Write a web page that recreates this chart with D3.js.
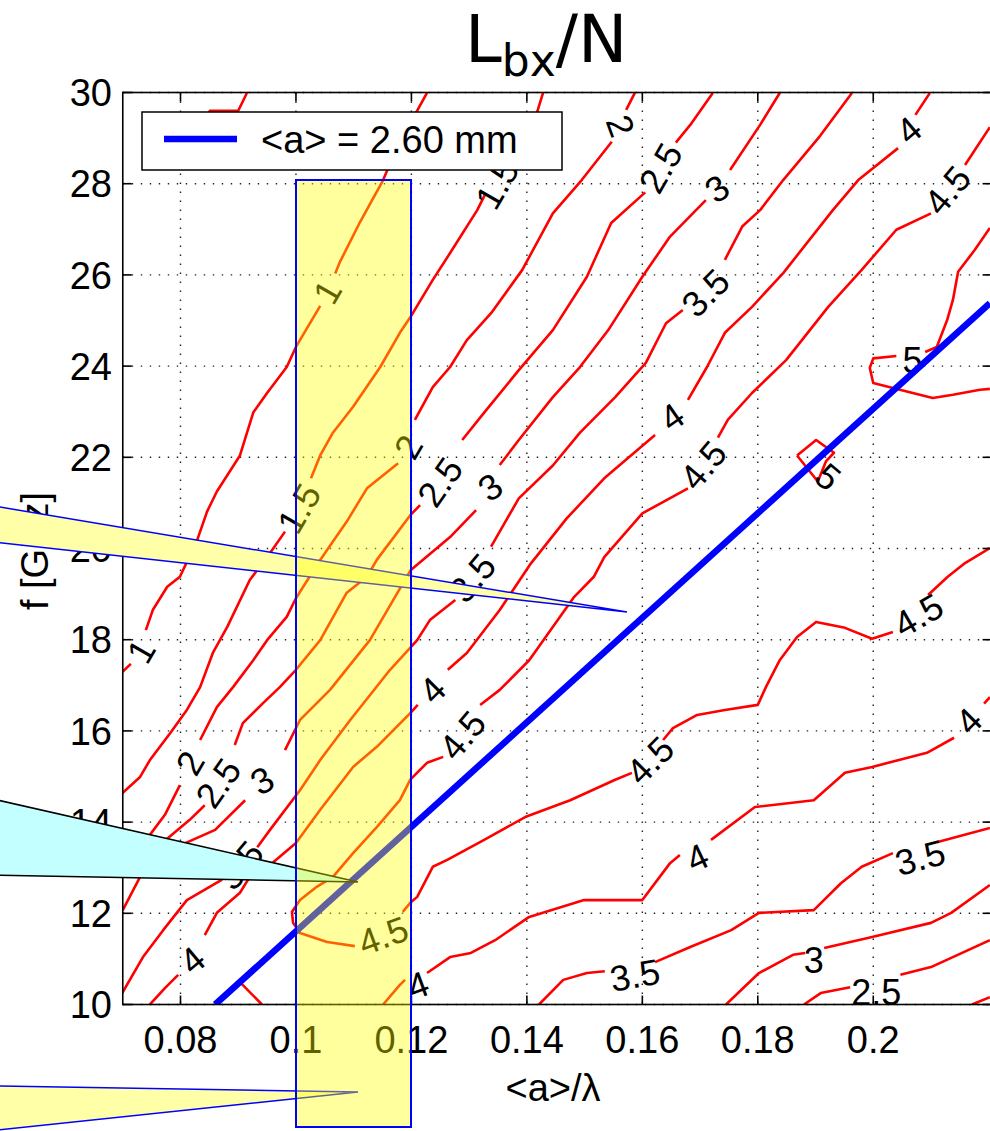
<!DOCTYPE html>
<html><head><meta charset="utf-8">
<script src="https://cdn.jsdelivr.net/npm/d3@7"></script>
<style>body{margin:0;background:#fff}svg{display:block}</style>
</head><body>
<script>
// ---------- data ----------
const xTicks = [0.08, 0.1, 0.12, 0.14, 0.16, 0.18, 0.2];
const yTicks = [10, 12, 14, 16, 18, 20, 22, 24, 26, 28, 30];
const xTickLabels = ["0.08", "0.1", "0.12", "0.14", "0.16", "0.18", "0.2"];
const legendLabel = "<a> = 2.60 mm";
const blueLine = [[0.0860, 10], [0.2202, 25.38]];

const c05 = [[[0.0915,29.99],[0.0900,29.60],[0.0851,29.60],[0.0834,29.29]]];
const c1 = [
 [[0.1227,29.99],[0.1210,29.60],[0.1180,28.96],[0.1151,28.08],[0.1111,27.16],[0.1076,26.28],[0.1068,26.03]],
 [[0.1042,25.32],[0.1000,24.42],[0.0984,23.98],[0.0950,23.41],[0.0926,22.98],[0.0903,22.04],[0.0863,21.25],[0.0846,20.81],[0.0829,20.19],[0.0799,19.38],[0.0777,19.16],[0.0752,18.65],[0.0740,18.21]],
 [[0.0714,17.47],[0.0699,17.29]]];
const c15 = [
 [[0.1428,29.99],[0.1418,29.58],[0.1388,28.96],[0.1364,28.30]],
 [[0.1327,27.75],[0.1314,27.42],[0.1267,26.48],[0.1237,25.89],[0.1198,25.07],[0.1180,24.73],[0.1146,23.98],[0.1099,23.11],[0.1064,22.54],[0.1042,22.04],[0.1026,21.54]],
 [[0.0981,20.37],[0.0950,19.81],[0.0920,19.31],[0.0881,18.28],[0.0856,17.71],[0.0834,16.96],[0.0811,16.46],[0.0782,15.95],[0.0747,15.36],[0.0730,14.99],[0.0699,14.63]]];
const c2 = [
 [[0.1587,29.99],[0.1572,29.62]],
 [[0.1547,28.92],[0.1495,28.08],[0.1445,27.35],[0.1392,26.11],[0.1338,25.16],[0.1296,24.57],[0.1267,23.98],[0.1237,23.54],[0.1206,22.82]],
 [[0.1177,21.87],[0.1123,21.32],[0.1088,20.59],[0.1059,20.06],[0.1042,19.75],[0.1000,18.91],[0.0984,18.50],[0.0950,17.99],[0.0926,17.55],[0.0891,16.96],[0.0863,16.52],[0.0834,15.80]],
 [[0.0799,14.81],[0.0773,14.16],[0.0747,13.72],[0.0699,13.28]]];
const c25 = [
 [[0.1722,29.99],[0.1683,29.29],[0.1658,28.90]],
 [[0.1605,27.81],[0.1546,27.14],[0.1504,25.96],[0.1445,24.79],[0.1386,23.91],[0.1326,22.98],[0.1288,22.38]],
 [[0.1215,20.95],[0.1198,20.73],[0.1140,19.75],[0.1123,19.38],[0.1088,19.03],[0.1042,17.99],[0.1000,17.34],[0.0972,16.96],[0.0943,16.61],[0.0908,16.17],[0.0894,15.69]],
 [[0.0842,14.37],[0.0816,14.05],[0.0764,13.50],[0.0730,13.17],[0.0699,12.91]]];
const c3 = [
 [[0.1838,29.99],[0.1804,29.29],[0.1752,28.30]],
 [[0.1710,27.64],[0.1648,26.84],[0.1600,25.96],[0.1541,24.79],[0.1492,23.98],[0.1445,23.32],[0.1386,22.38],[0.1353,21.83]],
 [[0.1312,20.84],[0.1267,20.25],[0.1199,19.53],[0.1128,17.99],[0.1059,16.90],[0.1007,16.24],[0.0981,15.58]],
 [[0.0912,14.48],[0.0860,13.83],[0.0782,13.39],[0.0730,12.80],[0.0700,12.07]]];
const c35 = [
 [[0.1963,29.99],[0.1908,29.05],[0.1844,28.08],[0.1804,27.42],[0.1773,27.06],[0.1743,26.33]],
 [[0.1670,25.23],[0.1641,24.94],[0.1606,24.07],[0.1553,23.32],[0.1492,22.54],[0.1445,21.82],[0.1386,21.10],[0.1338,20.04]],
 [[0.1276,18.87],[0.1232,18.43],[0.1210,17.99],[0.1163,17.34],[0.1094,16.24],[0.1042,15.36],[0.1007,14.70],[0.0955,13.83],[0.0933,13.45]],
 [[0.0872,12.74],[0.0811,12.29],[0.0770,11.63],[0.0735,11.04],[0.0699,10.25]]];
const c4 = [
 [[0.2098,29.99],[0.2073,29.51]],
 [[0.2043,28.78],[0.1974,28.08],[0.1930,27.42],[0.1844,26.04],[0.1790,25.30],[0.1743,24.73],[0.1712,23.98],[0.1679,23.26]],
 [[0.1622,22.49],[0.1534,21.54],[0.1469,20.66],[0.1405,19.64],[0.1353,18.65],[0.1296,17.71],[0.1263,17.34]],
 [[0.1211,16.57],[0.1198,16.39],[0.1140,15.65],[0.1099,15.21],[0.1042,14.27],[0.1000,13.54],[0.0955,13.06],[0.0920,12.80],[0.0903,12.45],[0.0863,12.01],[0.0842,11.52]],
 [[0.0796,10.65],[0.0773,10.36],[0.0747,10.00]]];
const c45 = [
 [[0.2202,29.24],[0.2176,28.74],[0.2159,28.41]],
 [[0.2100,27.35],[0.2040,26.99],[0.1980,26.11],[0.1922,25.30],[0.1849,24.13],[0.1790,23.41],[0.1748,22.82],[0.1731,22.43]],
 [[0.1679,21.32],[0.1600,20.77],[0.1534,19.81],[0.1516,19.38],[0.1482,18.94],[0.1404,17.55],[0.1353,16.90],[0.1319,16.57]],
 [[0.1255,15.43],[0.1227,15.30],[0.1198,14.93],[0.1180,14.48],[0.1140,13.89],[0.1099,13.32],[0.1064,12.80],[0.1036,12.58],[0.1007,12.29],[0.0993,12.03],[0.0995,11.79],[0.1007,11.57],[0.1054,11.37],[0.1102,11.28]],
 [[0.1185,12.03],[0.1198,12.23],[0.1210,12.36],[0.1237,13.02],[0.1262,13.17],[0.1326,13.61],[0.1397,14.11],[0.1475,14.48],[0.1553,14.93],[0.1582,15.08]],
 [[0.1636,15.80],[0.1653,16.06],[0.1695,16.35],[0.1743,16.46],[0.1800,16.57],[0.1814,16.96],[0.1838,17.55],[0.1868,18.06],[0.1901,18.39],[0.1951,18.26],[0.1998,18.02],[0.2034,18.17]],
 [[0.2095,18.98],[0.2129,19.38],[0.2159,19.68],[0.2202,20.01]]];
const c5 = [
 [[0.2202,27.03],[0.2176,26.55],[0.2147,26.07],[0.2138,25.45],[0.2128,25.01],[0.2110,24.42],[0.2090,24.31]],
 [[0.2040,24.22],[0.2000,24.17],[0.1994,23.96],[0.2000,23.63],[0.2034,23.52],[0.2103,23.30],[0.2138,23.37],[0.2185,23.48],[0.2202,23.50]],
 [[0.1868,22.04],[0.1901,22.38],[0.1932,22.10],[0.1918,21.91],[0.1904,21.47],[0.1868,22.04]],
 [[0.0941,10.00],[0.0903,10.49],[0.0882,10.27],[0.0865,10.03]]];
const r4 = [
 [[0.1151,10.00],[0.1180,10.43],[0.1189,10.54]],
 [[0.1227,10.69],[0.1267,11.04],[0.1303,11.13],[0.1345,11.41],[0.1404,11.92],[0.1499,12.29],[0.1600,12.29],[0.1648,13.10],[0.1665,13.28]],
 [[0.1719,13.61],[0.1795,14.33],[0.1897,14.48],[0.1951,15.08],[0.1998,15.21],[0.2093,15.52],[0.2140,15.85]],
 [[0.2192,16.60],[0.2202,16.74]]];
const r35 = [
 [[0.1421,10.00],[0.1463,10.54],[0.1504,10.69],[0.1535,10.73]],
 [[0.1622,10.93],[0.1683,11.26],[0.1754,11.63],[0.1802,12.01],[0.1897,12.07],[0.1944,12.66],[0.1980,13.02],[0.2034,13.32]],
 [[0.2110,13.56],[0.2202,13.87]]];
const r3 = [
 [[0.1745,10.00],[0.1802,10.69],[0.1861,11.09],[0.1882,11.13]],
 [[0.1915,11.24],[0.1998,11.48],[0.2100,11.79],[0.2135,12.01],[0.2202,12.62]]];
const r25 = [
 [[0.1880,10.00],[0.1909,10.25],[0.1960,10.38]],
 [[0.2047,10.65],[0.2100,10.82],[0.2202,11.41]]];
const r2 = [[[0.2171,10.00],[0.2202,10.16]]];

const contourLabels = [
 ["1",0.1054,25.63],["1",0.0731,17.75],
 ["1.5",0.1348,27.99],["1.5",0.1005,20.88],
 ["2",0.1563,29.27],["2",0.1194,22.23],["2",0.0816,15.30],
 ["2.5",0.1631,28.35],["2.5",0.1249,21.46],["2.5",0.0865,14.86],
 ["3",0.1729,27.90],["3",0.1336,21.35],["3",0.0941,14.92],
 ["3.5",0.1709,25.61],["3.5",0.1305,19.36],["3.5",0.0903,13.06],
 ["4",0.2061,29.18],["4",0.1651,22.89],["4",0.1236,16.90],["4",0.0820,10.98],
 ["4.5",0.2128,27.86],["4.5",0.1705,21.83],["4.5",0.1288,15.91],["4.5",0.1151,11.52],["4.5",0.1613,15.36],["4.5",0.2078,18.54],
 ["5",0.2068,24.13],["5",0.1922,21.58],
 ["4",0.1211,10.43],["4",0.1695,13.23],["4",0.2165,16.22],
 ["3.5",0.1587,10.65],["3.5",0.2081,13.23],
 ["3",0.1897,10.98],["2.5",0.2005,10.27]];
const labelAngles = [-60,-60,-60,-60,70,-60,-60,-60,-55,-55,-35,-35,-30,-45,-50,-50,
 -40,-35,-45,-40,-50,-50,-50,-20,-45,-30,0,40,-20,-25,-45,-10,-15,0,0];

// ---------- drawing ----------
const W = 990, H = 1131;
const svg = d3.select("body").append("svg").attr("width", W).attr("height", H);
const x = d3.scaleLinear().domain([0.07, 0.2205]).range([122.77, 991.6]);
const y = d3.scaleLinear().domain([10, 30]).range([1004.5, 92.5]);
const X0 = x(0.07), X1 = x(0.2205), Y0 = y(30), Y1 = y(10);
const FONT = "'Liberation Sans', Arial, sans-serif";

svg.append("defs").append("clipPath").attr("id","plot")
  .append("rect").attr("x",X0).attr("y",Y0).attr("width",X1-X0).attr("height",Y1-Y0);

// grid
const grid = svg.append("g").attr("stroke","#222").attr("stroke-width",1.4).attr("stroke-dasharray","1.4 7.6");
xTicks.forEach(t => grid.append("line").attr("x1",x(t)).attr("x2",x(t)).attr("y1",Y0).attr("y2",Y1));
yTicks.forEach(t => grid.append("line").attr("x1",X0).attr("x2",X1).attr("y1",y(t)).attr("y2",y(t)));

// contours
const plot = svg.append("g").attr("clip-path","url(#plot)");
const line = d3.line().x(d => x(d[0])).y(d => y(d[1]));
const contours = [c05,c1,c15,c2,c25,c3,c35,c4,c45,c5,r4,r35,r3,r25,r2];
contours.forEach(c => c.forEach(seg => plot.append("path").attr("d", line(seg))
  .attr("fill","none").attr("stroke","#ff0000").attr("stroke-width",2.6).attr("stroke-linejoin","round")));

contourLabels.forEach((l,i) => plot.append("text")
  .attr("transform",`translate(${x(l[1])},${y(l[2])}) rotate(${labelAngles[i]})`)
  .attr("text-anchor","middle").attr("dy","0.36em")
  .attr("font-family",FONT).attr("font-size",36).attr("fill","#000").text(l[0]));

// blue line
plot.append("path").attr("d", line(blueLine)).attr("fill","none")
  .attr("stroke","#0000ff").attr("stroke-width",6.5);

// axes box & ticks
const ax = svg.append("g").attr("stroke","#000").attr("stroke-width",1.6);
ax.append("rect").attr("x",X0).attr("y",Y0).attr("width",X1-X0).attr("height",Y1-Y0).attr("fill","none");
xTicks.forEach(t => {
  ax.append("line").attr("x1",x(t)).attr("x2",x(t)).attr("y1",Y1).attr("y2",Y1-9);
  ax.append("line").attr("x1",x(t)).attr("x2",x(t)).attr("y1",Y0).attr("y2",Y0+9);
});
yTicks.forEach(t => {
  ax.append("line").attr("x1",X0).attr("x2",X0+9).attr("y1",y(t)).attr("y2",y(t));
  ax.append("line").attr("x1",X1).attr("x2",X1-9).attr("y1",y(t)).attr("y2",y(t));
});
const tl = svg.append("g").attr("font-family",FONT).attr("font-size",38).attr("fill","#000");
xTicks.forEach((t,i) => tl.append("text").attr("x",x(t)).attr("y",1053).attr("text-anchor","middle").text(xTickLabels[i]));
yTicks.forEach(t => tl.append("text").attr("x",112).attr("y",y(t)).attr("dy","0.36em").attr("text-anchor","end").text(t));

// axis titles
svg.append("text").attr("x",553).attr("y",1101).attr("text-anchor","middle")
  .attr("font-family",FONT).attr("font-size",38).text("<a>/λ");
svg.append("text").attr("transform","translate(48,551) rotate(-90)").attr("text-anchor","middle")
  .attr("font-family",FONT).attr("font-size",38).text("f [GHz]");

// title
const title = svg.append("text").attr("x",465).attr("y",62)
  .attr("font-family","'DejaVu Sans', sans-serif").attr("font-size",66).attr("fill","#000");
title.append("tspan").text("L");
title.append("tspan").attr("font-size",44).attr("dy",14).text("bx");
title.append("tspan").attr("dy",-14).text("/N");

// legend
const lg = svg.append("g");
lg.append("rect").attr("x",142).attr("y",112).attr("width",420).attr("height",58)
  .attr("fill","#fff").attr("stroke","#000").attr("stroke-width",1.5);
lg.append("line").attr("x1",164).attr("x2",237).attr("y1",139).attr("y2",139)
  .attr("stroke","#0000ff").attr("stroke-width",6.5);
lg.append("text").attr("x",261).attr("y",153).attr("font-family",FONT).attr("font-size",38).text(legendLabel);

// callouts
svg.append("polygon").attr("points","-60,497 627,612 -60,536")
  .attr("fill","#ffffa8").attr("stroke","#0000ff").attr("stroke-width",1.5);
svg.append("polygon").attr("points","-60,787 358,882 -60,874")
  .attr("fill","#c4ffff").attr("stroke","#000").attr("stroke-width",1.5);
svg.append("polygon").attr("points","-60,1085 358,1092 -60,1136")
  .attr("fill","#ffffa8").attr("stroke","#0000ff").attr("stroke-width",1.5);

// highlight rectangle
svg.append("rect").attr("x",296).attr("y",180).attr("width",115).attr("height",947)
  .attr("fill","#ffff00").attr("fill-opacity",0.38).attr("stroke","#0000ff").attr("stroke-width",2);
</script>
</body></html>
